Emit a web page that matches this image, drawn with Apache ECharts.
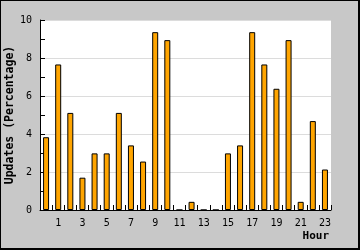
<!DOCTYPE html>
<html>
<head>
<meta charset="utf-8">
<script src="https://cdn.jsdelivr.net/npm/echarts@6/dist/echarts.min.js"></script>
<style>
html,body{margin:0;padding:0;background:#c8c8c8;}
#wrap{position:relative;width:360px;height:250px;}
#chart{position:absolute;left:0;top:0;width:360px;height:250px;}
#frame{position:absolute;left:0;top:0;width:360px;height:250px;box-sizing:border-box;border-style:solid;border-color:#000;border-width:1px 2px 2px 1px;pointer-events:none;}
</style>
</head>
<body>
<div id="wrap"><div id="chart"></div><div id="frame"></div></div>
<script>
var hours = ['0','1','2','3','4','5','6','7','8','9','10','11','12','13','14','15','16','17','18','19','20','21','22','23'];
var updates = [3.83, 7.66, 5.11, 1.70, 2.98, 2.98, 5.11, 3.40, 2.55, 9.36, 8.94, 0, 0.43, 0, 0, 2.98, 3.40, 9.36, 7.66, 6.38, 8.94, 0.43, 4.68, 2.13];
var yTicks = [0, 2, 4, 6, 8, 10];
var xTitle = 'Hour';
var yTitle = 'Updates (Percentage)';

var chart = echarts.init(document.getElementById('chart'), null, {renderer: 'canvas'});
var mono = 'DejaVu Sans Mono';
chart.setOption({
  backgroundColor: '#c8c8c8',
  animation: false,
  grid: {left: 40, top: 20, right: 29, bottom: 40, show: true, backgroundColor: '#ffffff', borderWidth: 0, containLabel: false, outerBoundsMode: 'none'},
  xAxis: {
    type: 'category',
    data: hours,
    boundaryGap: true,
    name: xTitle,
    nameLocation: 'end',
    nameGap: 0,
    nameMoveOverlap: false,
    nameTextStyle: {fontFamily: mono, fontWeight: 'bold', fontSize: 11, color: '#000', align: 'right', verticalAlign: 'top', padding: [21, 2, 0, 0]},
    axisLine: {show: true, lineStyle: {color: '#000', width: 1}},
    axisTick: {show: true, inside: true, length: 5, alignWithLabel: false, interval: 0, lineStyle: {color: '#000'}},
    axisLabel: {
      interval: 0, margin: 8, fontFamily: mono, fontSize: 10, color: '#000',
      formatter: function (v) { return (parseInt(v, 10) % 2 === 1) ? v : ''; }
    },
    splitLine: {show: false}
  },
  yAxis: {
    type: 'value',
    min: yTicks[0],
    max: yTicks[yTicks.length - 1],
    interval: 2,
    name: yTitle,
    nameLocation: 'middle',
    nameGap: 24,
    nameRotate: 90,
    nameMoveOverlap: false,
    nameTextStyle: {fontFamily: mono, fontWeight: 'bold', fontSize: 11.5, color: '#000'},
    axisLine: {show: true, lineStyle: {color: '#000', width: 1}},
    axisTick: {show: true, inside: true, length: 5, lineStyle: {color: '#000'}},
    minorTick: {show: true, splitNumber: 2, length: 5, lineStyle: {color: '#000'}},
    axisLabel: {margin: 8, fontFamily: mono, fontSize: 10, color: '#000'},
    splitLine: {show: true, lineStyle: {color: '#dcdcdc', width: 1}}
  },
  series: [{
    type: 'bar',
    data: updates,
    barWidth: 6,
    itemStyle: {color: '#ffa500', borderColor: '#000', borderWidth: 1}
  }]
});
</script>
</body>
</html>
